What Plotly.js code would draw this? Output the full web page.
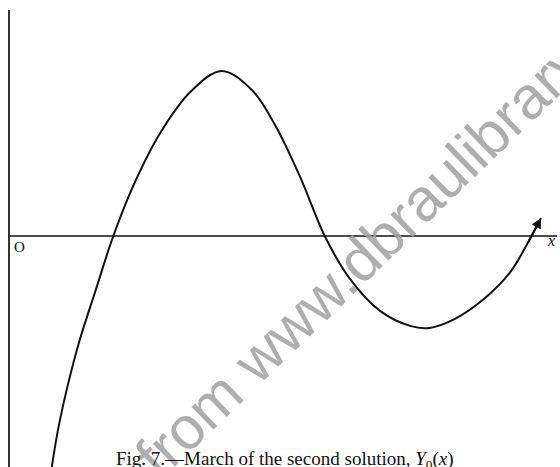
<!DOCTYPE html>
<html>
<head>
<meta charset="utf-8">
<script src="https://cdn.plot.ly/plotly-3.0.1.min.js"></script>
<style>
  html, body { margin: 0; padding: 0; background: #fff; }
  #chart { width: 560px; height: 467px; }
</style>
</head>
<body>
<div id="chart"></div>
<script>
// March of the second solution Y0(x), traced as drawn in the figure
const xValues = [0.60, 0.70, 0.84, 1.01, 1.23, 1.49, 1.80, 2.16, 2.59, 3.04, 3.47, 3.80,
                 4.16, 4.51, 4.87, 5.30, 5.73, 5.99, 6.37, 6.80, 7.16, 7.41, 7.60];
const yValues = [-0.738, -0.606, -0.466, -0.325, -0.175, 0.000, 0.169, 0.322, 0.450, 0.516,
                 0.456, 0.347, 0.184, 0.000, -0.134, -0.234, -0.281, -0.288, -0.259, -0.194,
                 -0.113, -0.022, 0.056];

const captionText = 'Fig. 7.—March of the second solution, <i>Y</i><sub>0</sub>(<i>x</i>)';
const originLabel = 'O';
const xAxisLabel = '<i>x</i>';
const stampText = 'from www.dbraulibrary.org.in';

const xRange = [-0.1286, 7.871];
const yRange = [-0.7219, 0.7375];
const xAxisEnd = 7.83;
const yAxisTop = 0.706;

const serif = '"Liberation Serif", "DejaVu Serif", serif';

const curve = {
  x: xValues,
  y: yValues,
  type: 'scatter',
  mode: 'lines',
  line: { color: '#111', width: 2, shape: 'spline', smoothing: 1 },
  hoverinfo: 'skip'
};

const n = xValues.length;

const layout = {
  width: 560,
  height: 467,
  margin: { l: 0, r: 0, t: 0, b: 0, pad: 0 },
  paper_bgcolor: '#fff',
  plot_bgcolor: '#fff',
  showlegend: false,
  xaxis: { range: xRange, visible: false, fixedrange: true },
  yaxis: { range: yRange, visible: false, fixedrange: true },
  shapes: [
    // ordinate
    { type: 'line', xref: 'x', yref: 'y', x0: 0, x1: 0, y0: yRange[0] - 0.02, y1: yAxisTop,
      line: { color: '#333', width: 2 } },
    // abscissa
    { type: 'line', xref: 'x', yref: 'y', x0: 0, x1: xAxisEnd, y0: 0, y1: 0,
      line: { color: '#111', width: 1.6 } }
  ],
  annotations: [
    // faint diagonal stamp across the page
    { xref: 'paper', yref: 'paper', x: 0.748, y: 0.567, xanchor: 'center', yanchor: 'middle',
      text: stampText, showarrow: false, textangle: -44,
      font: { family: '"Liberation Sans", Arial, sans-serif', size: 60, color: 'rgba(160,160,160,0.85)' } },
    // arrow head at the end of the curve
    { xref: 'x', yref: 'y', axref: 'x', ayref: 'y',
      x: xValues[n - 1], y: yValues[n - 1], ax: xValues[n - 2], ay: yValues[n - 2],
      text: '', showarrow: true, arrowhead: 2, arrowsize: 1, arrowwidth: 2, arrowcolor: '#111' },
    { xref: 'x', yref: 'y', x: 0.15, y: -0.034, text: originLabel, showarrow: false,
      xanchor: 'center', yanchor: 'middle', font: { family: serif, size: 15, color: '#111' } },
    { xref: 'x', yref: 'y', x: 7.74, y: -0.014, text: xAxisLabel, showarrow: false,
      xanchor: 'center', yanchor: 'middle', font: { family: serif, size: 16, color: '#111' } },
    { xref: 'x', yref: 'y', x: 3.94, y: -0.70, text: captionText, showarrow: false,
      xanchor: 'center', yanchor: 'middle', font: { family: serif, size: 19, color: '#111' } }
  ]
};

Plotly.newPlot('chart', [curve], layout, { staticPlot: true, displayModeBar: false });
</script>
</body>
</html>
